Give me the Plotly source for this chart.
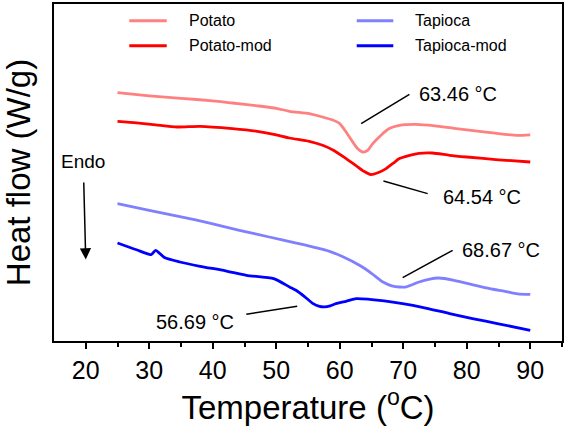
import plotly.graph_objects as go

# ---- data ----
potato_T = [25, 30, 35, 40, 43.1, 47, 50, 52.1, 55.2, 57.3, 58.8, 60.0, 61.0, 62.05, 62.8,
            63.6, 64.4, 65.2, 66.5, 67.8, 69.4, 72, 75, 78, 82, 86, 88, 90]
potato_hf = [2.484, 2.452, 2.427, 2.402, 2.380, 2.352, 2.327, 2.297, 2.274, 2.240, 2.212, 2.174,
             2.090, 1.990, 1.924, 1.890, 1.907, 1.974, 2.057, 2.124, 2.157, 2.167, 2.152, 2.127,
             2.097, 2.067, 2.057, 2.062]

potato_mod_T = [25, 28, 31, 34.4, 38, 43.1, 47, 50, 52.1, 55.2, 57.3, 59, 61, 62.5, 63.8, 64.9,
                66, 67.3, 68.5, 69.4, 71, 72.5, 74.6, 77.3, 80, 85, 90]
potato_mod_hf = [2.197, 2.182, 2.162, 2.140, 2.147, 2.124, 2.097, 2.062, 2.030, 1.997, 1.957,
                 1.907, 1.824, 1.757, 1.697, 1.664, 1.682, 1.724, 1.782, 1.824, 1.857, 1.877,
                 1.880, 1.857, 1.840, 1.812, 1.790]

tapioca_T = [25, 30, 35, 40, 44.2, 48.9, 53, 56, 58.4, 60.5, 63.1, 65, 66.8, 68.2, 69.4, 70.5,
             72.5, 74, 75.6, 78, 81, 83.6, 86, 88, 90]
tapioca_hf = [1.374, 1.307, 1.242, 1.172, 1.107, 1.040, 0.982, 0.937, 0.897, 0.842, 0.757, 0.677,
              0.590, 0.552, 0.540, 0.542, 0.590, 0.617, 0.630, 0.607, 0.562, 0.524, 0.497,
              0.472, 0.467]

tapioca_mod_T = [25, 28, 30.3, 31, 32.4, 34.8, 38, 42, 45.3, 49.6, 52.1, 53.1, 54.5, 55.8, 56.8,
                 57.6, 58.5, 59.4, 61, 62.6, 64.7, 67, 69.9, 73, 77.3, 80.9, 85, 90]
tapioca_mod_hf = [0.980, 0.912, 0.864, 0.907, 0.834, 0.790, 0.747, 0.702, 0.657, 0.624, 0.540,
                  0.507, 0.442, 0.374, 0.347, 0.342, 0.352, 0.374, 0.397, 0.424, 0.417, 0.402,
                  0.374, 0.337, 0.274, 0.224, 0.172, 0.107]

series_names = ["Potato", "Potato-mod", "Tapioca", "Tapioca-mod"]
series_colors = ["rgb(255,128,128)", "rgb(255,0,0)", "rgb(128,128,255)", "rgb(0,0,255)"]

x_ticks = [20, 30, 40, 50, 60, 70, 80, 90]
x_minor_ticks = [25, 35, 45, 55, 65, 75, 85, 95]
peak_labels = ["63.46 °C", "64.54 °C", "68.67 °C", "56.69 °C"]

FONT = "Arial, Liberation Sans, sans-serif"

fig = go.Figure()
series_T = [potato_T, potato_mod_T, tapioca_T, tapioca_mod_T]
series_hf = [potato_hf, potato_mod_hf, tapioca_hf, tapioca_mod_hf]
for name, xs, ys, col in zip(series_names, series_T, series_hf, series_colors):
    fig.add_trace(go.Scatter(x=xs, y=ys, mode="lines", name=name, showlegend=False,
                             line=dict(color=col, width=2.8, shape="spline", smoothing=0.6)))

# legend (two columns) drawn in paper coordinates
legend_line_x = [(0.1482, 0.2219), (0.1482, 0.2219), (0.5959, 0.6679), (0.5959, 0.6679)]
legend_text_x = [0.2624, 0.2624, 0.7073, 0.7073]
legend_row_y = [0.9504, 0.8763, 0.9504, 0.8763]
for name, col, (lx0, lx1), tx, ry in zip(series_names, series_colors, legend_line_x,
                                         legend_text_x, legend_row_y):
    fig.add_shape(type="line", xref="paper", yref="paper", x0=lx0, x1=lx1, y0=ry, y1=ry,
                  line=dict(color=col, width=3))
    fig.add_annotation(xref="paper", yref="paper", x=tx, y=ry, text=name, showarrow=False,
                       xanchor="left", yanchor="middle",
                       font=dict(family=FONT, size=16, color="black"))

# leader lines for peak annotations (data coords)
leaders = [
    (63.37, 2.174, 70.97, 2.467),
    (66.88, 1.600, 73.85, 1.474),
    (69.91, 0.634, 77.78, 0.907),
    (45.28, 0.267, 53.30, 0.347),
]
for x0, y0, x1, y1 in leaders:
    fig.add_shape(type="line", x0=x0, y0=y0, x1=x1, y1=y1, xref="x", yref="y",
                  line=dict(color="black", width=1.5))

label_pos = [
    (72.2, 2.469, "left"),
    (75.95, 1.44, "left"),
    (78.94, 0.912, "left"),
    (43.71, 0.19, "right"),
]
for (x, y, anc), txt in zip(label_pos, peak_labels):
    fig.add_annotation(x=x, y=y, text=txt, showarrow=False, xanchor=anc, yanchor="middle",
                       font=dict(family=FONT, size=20, color="black"))

# Endo label with downward arrow
fig.add_annotation(x=20, y=0.815, ax=19.6, ay=1.795, xref="x", yref="y", axref="x", ayref="y",
                   text="Endo", showarrow=True, arrowhead=2, arrowsize=1.5, arrowwidth=1.5,
                   arrowcolor="black", startstandoff=9,
                   font=dict(family=FONT, size=19, color="black"))

fig.update_layout(
    width=566, height=435,
    margin=dict(l=54, r=4, t=4, b=94, autoexpand=False),
    paper_bgcolor="white", plot_bgcolor="white",
    font=dict(family=FONT, color="black"),
    showlegend=False,
    xaxis=dict(range=[15, 95], tickmode="array", tickvals=x_ticks, automargin=False,
               ticks="outside", ticklen=6, tickwidth=1.5, tickcolor="black",
               minor=dict(tickvals=x_minor_ticks, ticks="outside",
                          ticklen=4, tickwidth=1.5, tickcolor="black"),
               showline=True, linecolor="black", linewidth=1.5, mirror=True,
               showgrid=False, zeroline=False,
               tickfont=dict(family=FONT, size=25),
               title=dict(text="Temperature (<sup>o</sup>C)", font=dict(family=FONT, size=33),
                          standoff=12)),
    yaxis=dict(range=[0, 3.37], showticklabels=False, ticks="", automargin=False,
               showline=True, linecolor="black", linewidth=1.5, mirror=True,
               showgrid=False, zeroline=False,
               title=dict(text="Heat flow (W/g)", font=dict(family=FONT, size=33),
                          standoff=24)),
)

fig.write_html(
    "out.html",
    config={"displayModeBar": False},
    post_script="document.body.style.margin='0';document.body.style.padding='0';"
                "document.documentElement.style.overflow='hidden';",
)
